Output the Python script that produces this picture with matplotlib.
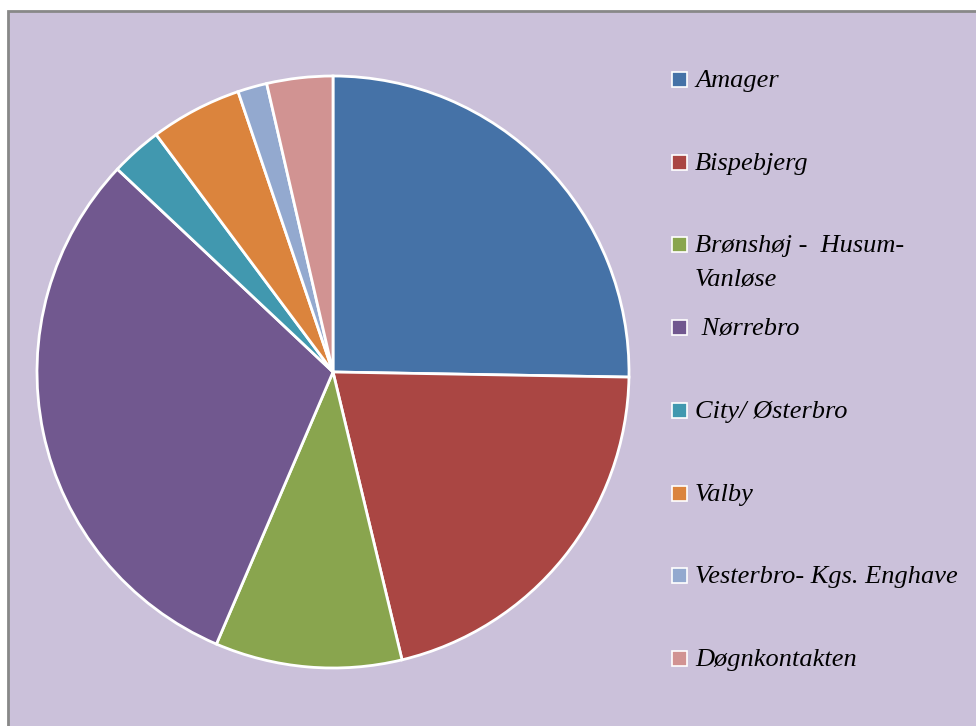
import matplotlib.pyplot as plt
from matplotlib.patches import Rectangle

labels = ["Amager", "Bispebjerg", "Brønshøj -  Husum-\nVanløse", " Nørrebro",
          "City/ Østerbro", "Valby", "Vesterbro- Kgs. Enghave", "Døgnkontakten"]
shares = [25.3, 21.0, 10.2, 30.6, 2.8, 5.0, 1.6, 3.6]
colors = ["#4572A7", "#AA4643", "#89A54E", "#71588F",
          "#4198AF", "#DB843D", "#93A9CF", "#D19392"]

W, H = 976, 726
bg = "#CBC1DA"

fig = plt.figure(figsize=(W / 100, H / 100), dpi=100, facecolor="white")

# chart area with grey frame (left and top edges visible)
fig.patches.append(Rectangle((7.5 / W, -0.1), 1.2, 1 - 11.5 / H + 0.1,
                             transform=fig.transFigure, facecolor=bg,
                             edgecolor="#888888", linewidth=2, zorder=-10))

cx, cy, r = 333, 372, 296
ax = fig.add_axes([(cx - r) / W, (H - cy - r) / H, 2 * r / W, 2 * r / H])
ax.pie(shares, colors=colors, startangle=90, counterclock=False,
       wedgeprops=dict(edgecolor="white", linewidth=2))
ax.set_xlim(-1, 1)
ax.set_ylim(-1, 1)
ax.set_aspect("equal")
ax.axis("off")

# legend drawn by hand to keep the spacing of the original
for i, (lab, col) in enumerate(zip(labels, colors)):
    y = 80 + i * 82.7
    fig.patches.append(Rectangle((672 / W, 1 - (y + 7) / H), 15 / W, 15 / H,
                                 transform=fig.transFigure, facecolor=col,
                                 edgecolor="white", linewidth=1.2, zorder=2))
    for k, line in enumerate(lab.split("\n")):
        fig.text(695 / W, 1 - (y + 1 + k * 34) / H, line, fontsize=19,
                 style="italic", family="Liberation Serif",
                 va="center", ha="left", transform=fig.transFigure)

fig.savefig("out.png", dpi=100, facecolor="white")
